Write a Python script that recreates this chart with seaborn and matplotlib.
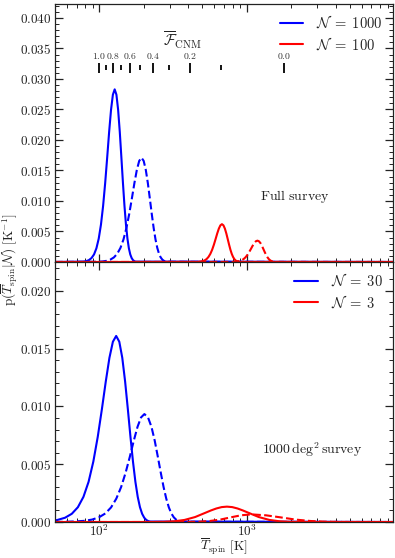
import numpy as np
import pandas as pd
import matplotlib
matplotlib.use('Agg')
import matplotlib.pyplot as plt
from matplotlib.ticker import MultipleLocator, FuncFormatter, LogLocator, NullFormatter
from matplotlib.lines import Line2D
import seaborn as sns

sns.set_style('ticks')
plt.rcParams['mathtext.fontset'] = 'cm'
plt.rcParams['font.family'] = ['DejaVu Serif']

# Full survey, N = 1000 (blue) and N = 100 (red); solid and dashed curves
full_blue_solid_T = [50, 78, 81.5, 85, 88.5, 92, 95.5, 99, 102.5, 106, 109.5, 113, 116.5, 120,
                     123.5, 127, 130.5, 134, 137.5, 141, 144.5, 148, 151.5, 155, 158.5, 162,
                     165.5, 169, 172.5, 176, 10000]
full_blue_solid_p = [0, 0.00006, 0.00014, 0.00031, 0.00065, 0.00124, 0.00225, 0.00383, 0.00612,
                     0.00919, 0.01296, 0.01716, 0.02136, 0.02497, 0.02743, 0.0283, 0.02743,
                     0.02497, 0.02136, 0.01716, 0.01296, 0.00919, 0.00612, 0.00383, 0.00225,
                     0.00124, 0.00065, 0.00031, 0.00014, 0.00006, 0]
full_blue_dash_T = [50, 98.5, 105.25, 112, 118.75, 125.5, 132.25, 139, 145.75, 152.5, 159.25,
                    166, 172.75, 179.5, 186.25, 193, 199.75, 206.5, 213.25, 220, 226.75, 233.5,
                    240.25, 247, 253.75, 260.5, 267.25, 274, 280.75, 287.5, 10000]
full_blue_dash_p = [0, 0.00004, 0.00009, 0.00019, 0.00039, 0.00075, 0.00136, 0.00231, 0.0037,
                    0.00555, 0.00783, 0.01037, 0.01291, 0.01509, 0.01657, 0.0171, 0.01657,
                    0.01509, 0.01291, 0.01037, 0.00783, 0.00555, 0.0037, 0.00231, 0.00136,
                    0.00075, 0.00039, 0.00019, 0.00009, 0.00004, 0]
full_red_solid_T = [50, 454, 470, 486, 502, 518, 534, 550, 566, 582, 598, 614, 630, 646, 662,
                    678, 694, 710, 726, 742, 758, 774, 790, 806, 822, 838, 854, 870, 886, 902,
                    10000]
full_red_solid_p = [0, 0.00001, 0.00003, 0.00007, 0.00014, 0.00027, 0.00049, 0.00084, 0.00134,
                    0.00201, 0.00284, 0.00376, 0.00468, 0.00547, 0.00601, 0.0062, 0.00601,
                    0.00547, 0.00468, 0.00376, 0.00284, 0.00201, 0.00134, 0.00084, 0.00049,
                    0.00027, 0.00014, 0.00007, 0.00003, 0.00001, 0]
full_red_dash_T = [50, 778, 806, 835, 864, 892, 921, 950, 979, 1008, 1036, 1065, 1094, 1122,
                   1151, 1180, 1209, 1238, 1266, 1295, 1324, 1352, 1381, 1410, 1439, 1468, 1496,
                   1525, 1554, 1582, 10000]
full_red_dash_p = [0, 0.00001, 0.00002, 0.00004, 0.00008, 0.00015, 0.00028, 0.00047, 0.00076,
                   0.00114, 0.0016, 0.00212, 0.00264, 0.00309, 0.00339, 0.0035, 0.00339,
                   0.00309, 0.00264, 0.00212, 0.0016, 0.00114, 0.00076, 0.00047, 0.00028,
                   0.00015, 0.00008, 0.00004, 0.00002, 0.00001, 0]

# 1000 deg^2 survey, N = 30 (blue) and N = 3 (red)
deg_blue_solid_T = [50, 52, 58.5, 65, 71.5, 78, 84.5, 91, 97.5, 104, 110.5, 117, 123.5, 130,
                    136.5, 143, 149.5, 156, 162.5, 169, 175.5, 182, 188.5, 195, 201.5, 208,
                    214.5, 221, 10000]
deg_blue_solid_p = [0.00014, 0.00018, 0.00037, 0.00071, 0.00128, 0.00218, 0.00348, 0.00523,
                    0.00737, 0.00976, 0.01215, 0.01421, 0.0156, 0.0161, 0.0156, 0.01421,
                    0.01215, 0.00976, 0.00737, 0.00523, 0.00348, 0.00218, 0.00128, 0.00071,
                    0.00037, 0.00018, 0.00008, 0.00004, 0]
deg_blue_dash_T = [50, 58.5, 68.75, 79, 89.25, 99.5, 109.75, 120, 130.25, 140.5, 150.75, 161,
                   171.25, 181.5, 191.75, 202, 213.75, 225.5, 237.25, 249, 260.75, 272.5,
                   284.25, 296, 307.75, 319.5, 331.25, 343, 354.75, 366.5, 10000]
deg_blue_dash_p = [0, 0.00002, 0.00005, 0.0001, 0.00021, 0.00041, 0.00074, 0.00126, 0.00202,
                   0.00303, 0.00428, 0.00566, 0.00705, 0.00824, 0.00905, 0.00934, 0.00905,
                   0.00824, 0.00705, 0.00566, 0.00428, 0.00303, 0.00202, 0.00126, 0.00074,
                   0.00041, 0.00021, 0.0001, 0.00005, 0.00002, 0]
deg_red_solid_T = [50, 229.6, 271, 320, 378, 446, 526, 571, 621, 675, 733, 796, 865, 940, 1021,
                   1205, 1422, 1679, 1982, 2339, 10000]
deg_red_solid_p = [0, 0.000003, 0.000015, 0.000058, 0.00018, 0.00043, 0.00081, 0.001, 0.00117,
                   0.00129, 0.00133, 0.00129, 0.00117, 0.001, 0.00081, 0.00043, 0.00018,
                   0.000058, 0.000015, 0.000003, 0]
deg_red_dash_T = [50, 347, 407, 479, 562, 661, 776, 912, 1072, 1349, 1698, 2138, 2692, 3388,
                  4266, 5370, 10000]
deg_red_dash_p = [0, 0.0000015, 0.000007, 0.000029, 0.000089, 0.00021, 0.0004, 0.00058,
                  0.00066, 0.00058, 0.0004, 0.00021, 0.000089, 0.000029, 0.000007, 0.0000015, 0]

# F_CNM scale along the top panel
fcnm_T = [100, 110.4, 123.3, 139.5, 160.7, 189, 230.8, 295, 409, 667, 1800]
fcnm_val = [1.0, 0.9, 0.8, 0.7, 0.6, 0.5, 0.4, 0.3, 0.2, 0.1, 0.0]

fig = plt.figure(figsize=(3.95, 5.58), dpi=100)
ax_top = fig.add_axes([0.1392, 0.5305, 0.8557, 0.4624])
ax_bot = fig.add_axes([0.1392, 0.0645, 0.8557, 0.4660], sharex=ax_top)

blue, red = '#0000ff', '#ff0000'
lw = 1.5

curves_top = [(full_blue_solid_T, full_blue_solid_p, blue, '-'),
              (full_blue_dash_T, full_blue_dash_p, blue, '--'),
              (full_red_solid_T, full_red_solid_p, red, '-'),
              (full_red_dash_T, full_red_dash_p, red, '--')]
curves_bot = [(deg_blue_solid_T, deg_blue_solid_p, blue, '-'),
              (deg_blue_dash_T, deg_blue_dash_p, blue, '--'),
              (deg_red_solid_T, deg_red_solid_p, red, '-'),
              (deg_red_dash_T, deg_red_dash_p, red, '--')]

for ax, curves in [(ax_top, curves_top), (ax_bot, curves_bot)]:
    for T, p, c, ls in curves:
        sns.lineplot(x=T, y=p, color=c, linestyle=ls, lw=lw, ax=ax,
                     estimator=None, sort=False)

ax_top.set_xscale('log')
ax_top.set_xlim(50, 9800)
ax_top.set_ylim(0, 0.0423)
ax_bot.set_ylim(0, 0.0225)

yfmt = FuncFormatter(lambda v, _: r'$%.3f$' % v)
for ax in (ax_top, ax_bot):
    ax.yaxis.set_major_locator(MultipleLocator(0.005))
    ax.yaxis.set_minor_locator(MultipleLocator(0.001))
    ax.yaxis.set_major_formatter(yfmt)
    ax.xaxis.set_major_locator(LogLocator(base=10))
    ax.xaxis.set_minor_locator(LogLocator(base=10, subs=np.arange(2, 10)))
    ax.xaxis.set_minor_formatter(NullFormatter())
    ax.tick_params(which='both', direction='in', top=True, right=True, labelsize=9.5,
                   colors='#222222', pad=2.5)
    ax.tick_params(which='major', length=6, width=0.9)
    ax.tick_params(which='minor', length=3, width=0.7)
    for s in ax.spines.values():
        s.set_linewidth(0.9)
        s.set_color('#222222')
    ax.set_xlabel('')
    ax.set_ylabel('')

ax_bot.xaxis.set_major_formatter(FuncFormatter(lambda v, _: r'$10^{%d}$' % round(np.log10(v))))
ax_bot.tick_params(axis='x', pad=1)
plt.setp(ax_top.get_xticklabels(), visible=False)

# F_CNM ticks
for T, f in zip(fcnm_T, fcnm_val):
    major = round(f * 10) % 2 == 0
    if major:
        ax_top.vlines(T, 0.0310, 0.0326, color='black', lw=1.3)
        ax_top.text(T, 0.0329, r'$%.1f$' % f, ha='center', va='bottom', fontsize=7,
                    color='#333333')
    else:
        ax_top.vlines(T, 0.0314, 0.03235, color='black', lw=1.3)
ax_top.text(367, 0.0364, r'$\overline{\mathcal{F}}_{\rm CNM}$', ha='center', va='center',
            fontsize=11, color='#222222')

ax_top.text(0.71, 0.252, r'$\mathrm{Full\ survey}$', transform=ax_top.transAxes,
            ha='center', va='center', fontsize=10, color='#222222')
ax_bot.text(0.76, 0.28, r'$1000\,\mathrm{deg}^2\,\mathrm{survey}$', transform=ax_bot.transAxes,
            ha='center', va='center', fontsize=10, color='#222222')

leg_kw = dict(loc='upper right', frameon=False, fontsize=10.5, handlelength=1.6,
              handletextpad=0.9, labelspacing=0.35, borderaxespad=0.3)
ax_top.legend([Line2D([], [], color=blue, lw=lw), Line2D([], [], color=red, lw=lw)],
              [r'$\mathcal{N}\;=\;1000$', r'$\mathcal{N}\;=\;100$'], **leg_kw)
ax_bot.legend([Line2D([], [], color=blue, lw=lw), Line2D([], [], color=red, lw=lw)],
              [r'$\mathcal{N}\;=\;30$', r'$\mathcal{N}\;=\;3$'], **leg_kw)

fig.text(0.567, 0.002, r'$\overline{T}_{\rm spin}\ [\mathrm{K}]$', ha='center', va='bottom',
         fontsize=9.5, color='#222222')
fig.text(0.026, 0.534, r'$\mathrm{p}(\overline{T}_{\rm spin}|\mathcal{N})\ [\mathrm{K}^{-1}]$',
         rotation=90, ha='center', va='center', fontsize=9.5, color='#222222')

fig.savefig('out.png', dpi=100)
